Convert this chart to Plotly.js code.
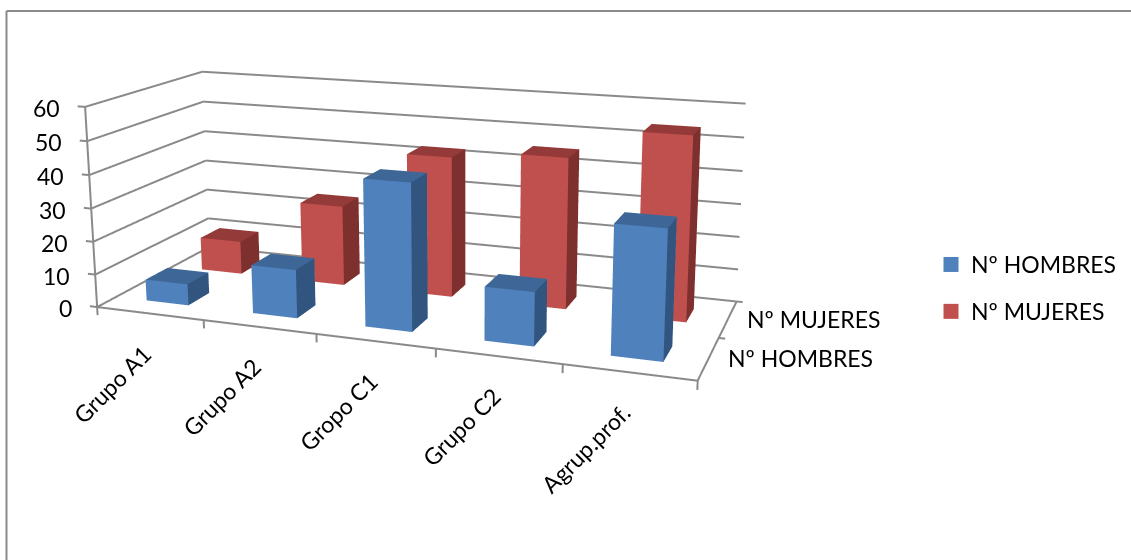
<!DOCTYPE html>
<html><head><meta charset="utf-8"><script src="https://cdn.plot.ly/plotly-3.0.1.min.js"></script>
<style>html,body{margin:0;padding:0;background:#fff;overflow:hidden;width:1131px;height:560px}
#wrap{position:relative;width:1131px;height:560px;overflow:hidden}
#chart{position:absolute;left:-211px;top:-419px;width:1342px;height:1164px}</style></head>
<body><div id="wrap"><div id="chart"></div></div>
<script>
const categories=['Grupo A1','Grupo A2','Gropo C1','Grupo C2','Agrup.prof.'];
const seriesNames=['Nº HOMBRES','Nº MUJERES'];
const hombres=[6.5,14.5,43,15.5,36.5];
const mujeres=[10.5,25,43,45.5,54.5];
const zTicks=[0,10,20,30,40,50,60];
const W=1342,H=1164,L=-211,T=-419;
const px=v=>(v-L)/W, py=v=>1-(v-T)/H;
const grey='#8a8a8a';
const FONT='Lato, Carlito, sans-serif';
const barW=0.40,barD=0.37;
function bar(xc,yc,v,cols){
  const x0=xc-barW/2,x1=xc+barW/2,y0=yc-barD/2,y1=yc+barD/2;
  return {type:'mesh3d',x:[x0,x1,x1,x0,x0,x1,x1,x0],y:[y0,y0,y1,y1,y0,y0,y1,y1],z:[0,0,0,0,v,v,v,v],
    i:[0,0,1,1,2,2,3,3,4,4,0,0],j:[1,5,2,6,3,7,0,4,5,6,1,2],k:[5,4,6,5,7,6,4,7,6,7,2,3],
    facecolor:[cols[0],cols[0],cols[2],cols[2],cols[0],cols[0],cols[0],cols[0],cols[1],cols[1],cols[0],cols[0]],
    flatshading:true,lighting:{ambient:1,diffuse:0,specular:0,roughness:1,fresnel:0},hoverinfo:'skip',showlegend:false};
}
const traces=[];
mujeres.forEach((v,i)=>traces.push(bar(i+0.495,1.48,v,['#c0504d','#943a38','#7d302e'])));
hombres.forEach((v,i)=>traces.push(bar(i+0.495,0.49,v,['#4f81bd','#3e6797','#31557f'])));
const lx=[],ly=[],lz=[];
function seg(a,b){lx.push(a[0],b[0],null);ly.push(a[1],b[1],null);lz.push(a[2],b[2],null);}
zTicks.forEach(z=>{seg([-0.07,0,z],[0,0,z]);seg([0,0,z],[0,2,z]);seg([0,2,z],[5,2,z]);});
seg([0,0,0],[0,0,60]);
seg([0,0,0],[5,0,0]);seg([5,0,0],[5,2,0]);
[0,1,2,3,4,5].forEach(x=>seg([x,0,0],[x,0,-2.5]));
[1,2].forEach(y=>seg([5,y,0],[5.05,y,0]));
traces.push({type:'scatter3d',mode:'lines',x:lx,y:ly,z:lz,line:{color:grey,width:4},hoverinfo:'skip',showlegend:false,connectgaps:false});
seriesNames.forEach((n,i)=>traces.push({type:'scatter',mode:'markers',x:[null],y:[null],name:n,legendgroup:n,marker:{symbol:'square',size:15,color:i?'#c0504d':'#4f81bd'},hoverinfo:'skip'}));
const anns=[];
zTicks.forEach(z=>anns.push({x:0,y:0,z:z,text:String(z),showarrow:false,xanchor:'right',yanchor:'middle',xshift:-23,yshift:-1,font:{family:FONT,size:23,color:'#000'}}));
categories.forEach((c,i)=>anns.push({x:i+0.5,y:0,z:0,text:c,showarrow:false,textangle:-45,xanchor:'right',yanchor:'top',xshift:10,yshift:-23,font:{family:FONT,size:23,color:'#000'}}));
seriesNames.forEach((c,i)=>anns.push({x:5,y:i+0.5,z:0,text:c,showarrow:false,xanchor:'left',yanchor:'middle',xshift:17,yshift:0,font:{family:FONT,size:23,color:'#000'}}));
const off={visible:false,showgrid:false,zeroline:false,showticklabels:false,showbackground:false,title:{text:''},showspikes:false};
const layout={width:W,height:H,margin:{l:0,r:0,t:0,b:0},paper_bgcolor:'#fff',plot_bgcolor:'rgba(0,0,0,0)',
 showlegend:true,
 legend:{x:px(931),y:py(243),xanchor:'left',yanchor:'top',font:{family:FONT,size:23,color:'#000'},tracegroupgap:14,traceorder:'grouped',itemclick:false,bgcolor:'rgba(0,0,0,0)',itemsizing:'trace'},
 xaxis:{visible:false,domain:[0,0.01]},yaxis:{visible:false,domain:[0,0.01]},
 shapes:[
  {type:'line',xref:'paper',yref:'paper',x0:px(6.5),x1:px(6.5),y0:py(11),y1:py(560),line:{color:grey,width:2}},
  {type:'line',xref:'paper',yref:'paper',x0:px(6.5),x1:px(1131),y0:py(11),y1:py(11),line:{color:grey,width:2}}
 ],
 scene:{domain:{x:[0,1],y:[0,1]},aspectmode:'manual',aspectratio:{x:2.217*5.4/5,y:0.42*2.4,z:0.0125*65},
  camera:{eye:{x:1.7765,y:-4.598,z:1.29625},center:{x:0.1295,y:0.135,z:0.15825},up:{x:0,y:0,z:1},projection:{type:'perspective'}},
  xaxis:Object.assign({range:[-0.2,5.2]},off),yaxis:Object.assign({range:[-0.3,2.1]},off),zaxis:Object.assign({range:[-3,62]},off),
  annotations:anns}
};
Plotly.newPlot('chart',traces,layout,{displayModeBar:false});
</script></body></html>
